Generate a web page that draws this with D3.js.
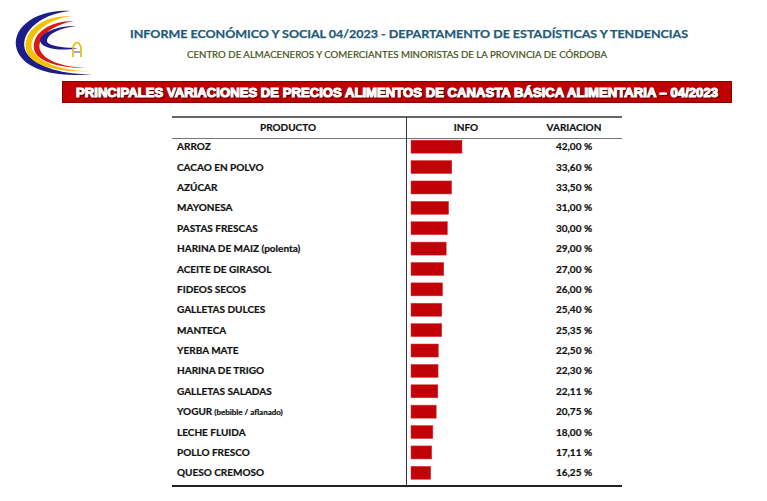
<!DOCTYPE html>
<html><head><meta charset="utf-8">
<script src="https://cdn.jsdelivr.net/npm/d3@7"></script>
<style>
html,body{margin:0;padding:0;background:#fff;}
svg{display:block;}
</style></head>
<body>
<svg id="chart" width="767" height="501"></svg>
<script>
const products = ["ARROZ","CACAO EN POLVO","AZÚCAR","MAYONESA","PASTAS FRESCAS","HARINA DE MAIZ (polenta)","ACEITE DE GIRASOL","FIDEOS SECOS","GALLETAS DULCES","MANTECA","YERBA MATE","HARINA DE TRIGO","GALLETAS SALADAS","YOGUR (bebible / aflanado)","LECHE FLUIDA","POLLO FRESCO","QUESO CREMOSO"];
const variations = [42.00,33.60,33.50,31.00,30.00,29.00,27.00,26.00,25.40,25.35,22.50,22.30,22.11,20.75,18.00,17.11,16.25];
const columnHeaders = ["PRODUCTO","INFO","VARIACION"];
const titleText = "INFORME ECONÓMICO Y SOCIAL 04/2023 - DEPARTAMENTO DE ESTADÍSTICAS Y TENDENCIAS";
const subtitleText = "CENTRO DE ALMACENEROS Y COMERCIANTES MINORISTAS DE LA PROVINCIA DE CÓRDOBA";
const bannerText = "PRINCIPALES VARIACIONES DE PRECIOS ALIMENTOS DE CANASTA BÁSICA ALIMENTARIA – 04/2023";

const svg = d3.select("#chart");
const fmt = v => d3.format(".2f")(v).replace(".", ",") + " %";

// Logo
const logo = svg.append("g");
logo.append("path").attr("fill","#1c1c8a")
  .attr("d","M70,11 C34,9 10,30 17,50 C24,69 54,78 92,74 C62,75 34,66 26,52 C18,35 38,14 70,11 Z");
logo.append("path").attr("fill","#f2c200")
  .attr("d","M72,16 C42,15 22,32 26,50 C30,65 56,73 90,71 C62,71 40,63 33,51 C26,37 46,19 72,16 Z");
logo.append("path").attr("fill","#d81a10")
  .attr("d","M74,21 C48,21 32,34 34,49 C36,61 58,68 86,68 C62,67 44,60 40,50 C36,37 54,24 74,21 Z");
logo.append("path").attr("fill","#1c1c8a")
  .attr("d","M76,26 C54,26 40,34 40,41 C41,48 60,52 78,48 C60,48 47,45 47,41 C47,34 60,28 76,26 Z");
logo.append("path").attr("fill","none").attr("stroke","#e8b800").attr("stroke-width",1.6)
  .attr("d","M73,57 L73,47 Q77,38 81,47 L81,57");
logo.append("path").attr("fill","none").attr("stroke","#1c1c8a").attr("stroke-width",0.8)
  .attr("d","M74,52 L80,52");

// Header texts
svg.append("text").attr("x",409).attr("y",38).attr("text-anchor","middle")
  .attr("font-family","Lato, sans-serif").attr("font-weight",700).attr("font-size",11.5)
  .attr("fill","#1e5b78").attr("stroke","#1e5b78").attr("stroke-width",0.25)
  .attr("textLength",558).attr("lengthAdjust","spacingAndGlyphs")
  .text(titleText);
svg.append("text").attr("x",397).attr("y",57.5).attr("text-anchor","middle")
  .attr("font-family","Lato, sans-serif").attr("font-weight",400).attr("font-size",9.8)
  .attr("fill","#3e5014").attr("stroke","#3e5014").attr("stroke-width",0.2)
  .attr("textLength",420).attr("lengthAdjust","spacingAndGlyphs")
  .text(subtitleText);

// Banner
svg.append("rect").attr("x",62.5).attr("y",81.5).attr("width",669).attr("height",21)
  .attr("fill","#c00000").attr("stroke","#8a0000").attr("stroke-width",1);
svg.append("text").attr("x",397).attr("y",97).attr("text-anchor","middle")
  .attr("font-family","'Liberation Sans', Arial, sans-serif").attr("font-weight",700).attr("font-size",13)
  .attr("fill","#5a0000").attr("stroke","#5a0000").attr("stroke-width",1.2)
  .attr("transform","translate(1,1)")
  .attr("textLength",642).attr("lengthAdjust","spacingAndGlyphs").text(bannerText);
svg.append("text").attr("x",397).attr("y",97).attr("text-anchor","middle")
  .attr("font-family","'Liberation Sans', Arial, sans-serif").attr("font-weight",700).attr("font-size",13)
  .attr("fill","#ffffff").attr("stroke","#ffffff").attr("stroke-width",1.1)
  .attr("textLength",642).attr("lengthAdjust","spacingAndGlyphs").text(bannerText);

// Table
const tableLeft = 172, tableRight = 622, divider = 406.5;
const y = d3.scaleBand().domain(products).range([136.5, 483]).paddingInner(0.36).paddingOuter(0.18);
const x = d3.scaleLinear().domain([0, 42]).range([411, 462]);

const font = "Lato, 'Open Sans', sans-serif";
svg.append("line").attr("x1",tableLeft).attr("x2",tableRight).attr("y1",117).attr("y2",117)
  .attr("stroke","#333").attr("stroke-width",1.6);
svg.append("line").attr("x1",tableLeft).attr("x2",tableRight).attr("y1",138.5).attr("y2",138.5)
  .attr("stroke","#777").attr("stroke-width",1);
svg.append("line").attr("x1",tableLeft).attr("x2",tableRight).attr("y1",486).attr("y2",486)
  .attr("stroke","#222").attr("stroke-width",2);
svg.append("line").attr("x1",divider).attr("x2",divider).attr("y1",117).attr("y2",486)
  .attr("stroke","#333").attr("stroke-width",1);

const headerX = [288, 466, 574];
svg.selectAll("text.hdr").data(columnHeaders).join("text").attr("class","hdr")
  .attr("x",(d,i)=>headerX[i]).attr("y",131).attr("text-anchor","middle")
  .attr("font-family",font).attr("font-weight",700).attr("font-size",10).attr("fill","#111")
  .attr("stroke","#111").attr("stroke-width",0.2)
  .text(d=>d);

const rows = svg.append("g");
const labels = rows.selectAll("text.prod").data(products).join("text").attr("class","prod")
  .attr("x",177).attr("y",d=>y(d)+y.bandwidth()/2+3.6)
  .attr("font-family",font).attr("font-weight",700).attr("font-size",10).attr("fill","#111")
  .attr("stroke","#111").attr("stroke-width",0.2);
labels.each(function(d){
  const m = d.match(/^(.*?)(\s\(.*\))$/);
  const t = d3.select(this);
  if (m && m[1]==="YOGUR") {
    t.append("tspan").text(m[1]);
    t.append("tspan").attr("font-size",8).text(m[2]);
  } else if (m) {
    t.append("tspan").text(m[1]);
    t.append("tspan").text(m[2]);
  } else t.text(d);
});

rows.selectAll("rect.bar").data(variations).join("rect").attr("class","bar")
  .attr("x",x(0)).attr("y",(d,i)=>y(products[i]))
  .attr("width",d=>x(d)-x(0)).attr("height",y.bandwidth())
  .attr("fill","#c20008").attr("stroke","#d84040").attr("stroke-width",0.5);

rows.selectAll("text.val").data(variations).join("text").attr("class","val")
  .attr("x",574).attr("y",(d,i)=>y(products[i])+y.bandwidth()/2+3.6).attr("text-anchor","middle")
  .attr("font-family",font).attr("font-weight",700).attr("font-size",10).attr("fill","#111")
  .attr("stroke","#111").attr("stroke-width",0.2)
  .text(d=>fmt(d));
</script>
</body></html>
